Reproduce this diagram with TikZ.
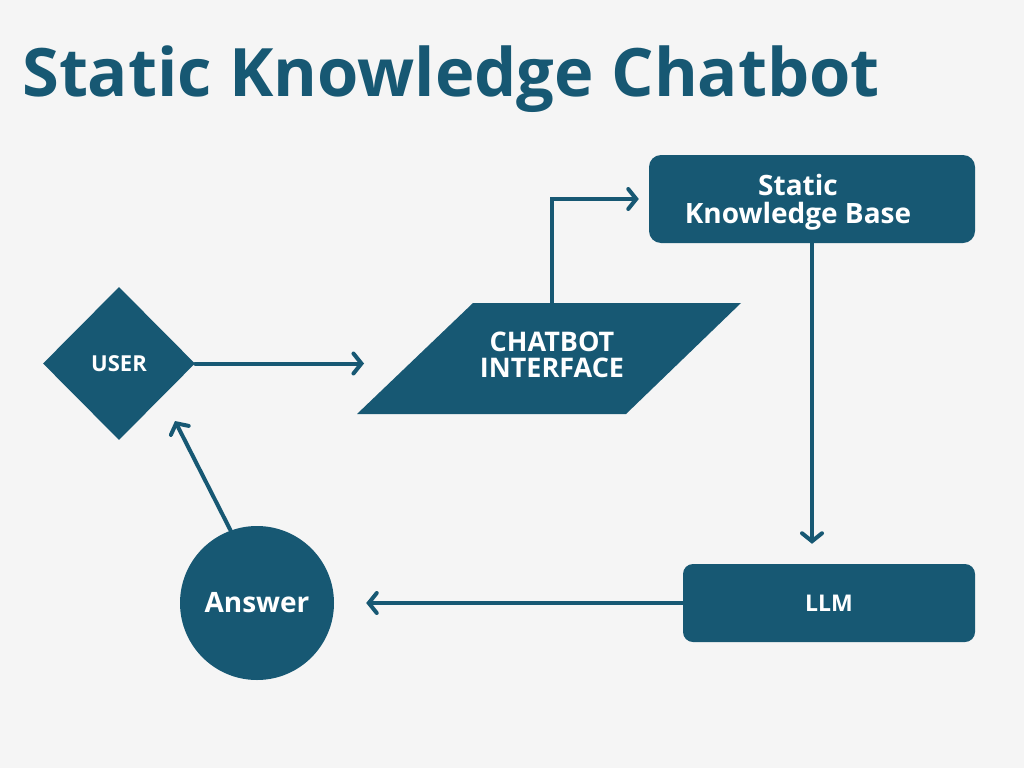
\documentclass[tikz,border=0pt]{standalone}
\usepackage{fontspec}
\setmainfont{Open Sans}
\usetikzlibrary{positioning,shapes.geometric,arrows.meta}

\definecolor{deepteal}{HTML}{175873}
\definecolor{paper}{HTML}{F5F5F5}

\begin{document}
\begin{tikzpicture}[x=1pt, y=-1pt,
                every node/.style={fill=deepteal, text=white, inner sep=0pt, align=center},
                flow/.style={draw=deepteal, line width=4pt, line cap=round,
                  -{Straight Barb[length=8pt, width=20pt, line cap=round]}}
                ]
                % Background
                \fill[paper] (0,0) rectangle (1024,768);

                % Title
                \node[fill=none, text=deepteal, anchor=base west,
                      font=\bfseries\fontsize{66.8}{68}\selectfont] (title) at (22,96) {Static Knowledge Chatbot};

                % Chatbot interface (slanted box)
                \fill[deepteal] (473,303) -- (741,303) -- (626,414) -- (357,414) -- cycle;
                \coordinate (chattop) at (552,303);

                % Define the nodes
                \node[diamond, aspect=1, minimum width=152pt, minimum height=153pt,
                      font=\bfseries\fontsize{22}{22}\selectfont] (user) at (119,363.5) {USER};
                \node[fill=none, font=\bfseries\fontsize{27}{26}\selectfont] (chat) at (552,355) {CHATBOT\\INTERFACE};
                \node[rounded corners=12pt, minimum width=326pt, minimum height=88pt,
                      label={[fill=none, xshift=-14pt, yshift=-3pt, font=\bfseries\fontsize{28}{28}\selectfont]center:Static\\Knowledge Base}]
                      (kb) at (812,199) {\phantom{X}};
                \node[rounded corners=10pt, minimum width=292pt, minimum height=78pt,
                      font=\bfseries\fontsize{23}{23}\selectfont] (llm) at (829,603) {LLM};
                \node[circle, minimum size=154pt,
                      font=\bfseries\fontsize{28}{28}\selectfont] (ans) at (257,603) {Answer};
                \coordinate (userpt) at (175,421);

                % Draw the arrows
                \draw[flow, shorten >=2pt] (user.east) -- (user.east -| 366,0);
                \draw[flow, shorten >=10pt] (chattop) |- (kb.west);
                \draw[flow, shorten >=20pt] (kb.south) -- (llm.north -| kb.south);
                \draw[flow, shorten >=32pt] (llm.west) -- (ans.east);
                \draw[flow] (ans.110) -- (userpt);
            \end{tikzpicture}
\end{document}
